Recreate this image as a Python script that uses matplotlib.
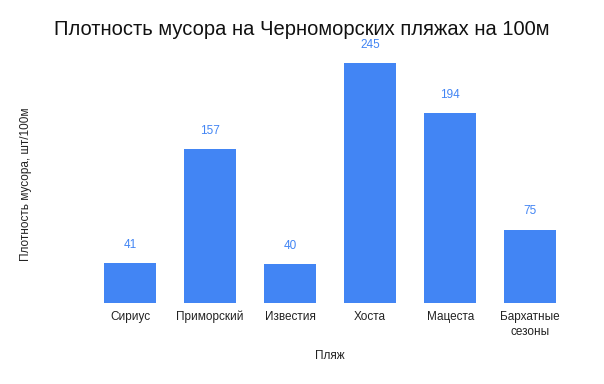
import matplotlib
matplotlib.use("Agg")
from matplotlib import pyplot as plt

plt.rcParams['font.family'] = ['Liberation Sans', 'DejaVu Sans']

plyazhi = ['Сириус', 'Приморский', 'Известия', 'Хоста', 'Мацеста', 'Бархатные\nсезоны']
musor = [41, 157, 40, 245, 194, 75]

cvet = '#4285f4'

fig = plt.figure(figsize=(6.04, 3.84), dpi=100)
ax = fig.add_axes([0.149, 0.211, 0.795, 0.698])

x = range(len(plyazhi))
ax.bar(x, musor, width=0.65, color=cvet)
for i, v in zip(x, musor):
    ax.annotate(str(v), (i, v), xytext=(0, 13), textcoords='offset points',
                ha='center', va='center', fontsize=8.5, color=cvet)

# подписи по базовой линии, чтобы "й" не сдвигала текст
trans = ax.get_xaxis_transform()
for i, name in zip(x, plyazhi):
    for k, line in enumerate(name.split('\n')):
        ax.text(i, -0.0634 - 0.056 * k, line, transform=trans, ha='center',
                va='baseline', fontsize=8.5, color='#222222')

ax.set_xlim(-0.5, len(plyazhi) - 0.5)
ax.set_ylim(0, 273.6)
ax.set_xticks([])
ax.set_yticks([])
for s in ax.spines.values():
    s.set_visible(False)

ax.text(0.5, -0.197, 'Пляж', transform=ax.transAxes, fontsize=8.5,
        color='#222222', ha='center', va='center')
fig.text(0.043, 0.52, 'Плотность мусора, шт/100м', rotation=90, fontsize=8.5,
         color='#222222', ha='center', va='center')
fig.text(0.5, 0.922, 'Плотность мусора на Черноморских пляжах на 100м',
         fontsize=14.5, ha='center', va='center', color='#111111')

plt.savefig('out.png', dpi=100)
